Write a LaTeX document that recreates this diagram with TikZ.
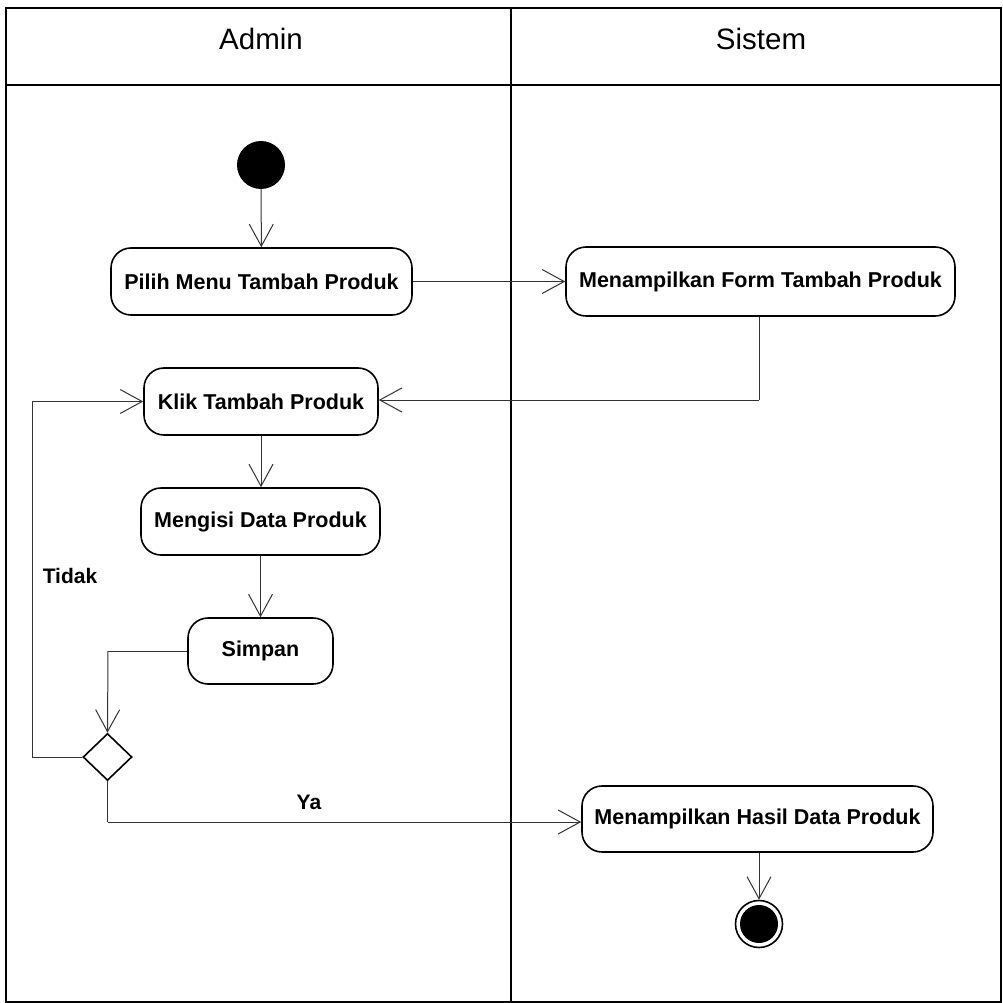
\documentclass[tikz,border=0pt]{standalone}
\usepackage{fontspec}
\setmainfont{Liberation Sans}
\usetikzlibrary{arrows.meta,shapes.geometric}
\begin{document}
\begin{tikzpicture}[x=1pt,y=-1pt,
  action/.style={draw=black,line width=1.6pt,rounded corners=20pt,fill=white,
    font=\fontsize{21.5}{25}\selectfont\bfseries,inner sep=0pt},
  flow/.style={draw=black!80,line width=1pt,
    -{Straight Barb[length=22pt,width=24pt,line width=1pt]}},
  plain/.style={draw=black!80,line width=1pt},
  lane/.style={draw=black,line width=1.8pt},
  lbl/.style={font=\fontsize{21}{25}\selectfont\bfseries}]
\useasboundingbox (0,0) rectangle (1002,1003);
% swimlanes
\draw[lane] (6,8) rectangle (1001,1002);
\draw[lane] (6,85) -- (1001,85);
\draw[lane] (511,8) -- (511,1002);
\node[font=\fontsize{29.5}{34}\selectfont] (hAdmin) at (261,39) {Admin};
\node[font=\fontsize{29.5}{34}\selectfont] (hSistem) at (761,39) {Sistem};
% initial and final states
\node[circle,fill=black,minimum size=48pt,inner sep=0pt] (start) at (261,165) {};
\node[circle,draw=black,line width=1.6pt,minimum size=47pt,inner sep=0pt] (stop) at (759,924) {};
\fill[black] (stop.center) circle (19pt);
% actions
\node[action,minimum width=301pt,minimum height=67pt] (pilih) at (261.5,281.5) {Pilih Menu Tambah Produk};
\node[action,minimum width=389pt,minimum height=69pt] (form) at (760.5,281.5) {Menampilkan Form Tambah Produk};
\node[action,minimum width=234pt,minimum height=67pt] (klik) at (261,401.5) {Klik Tambah Produk};
\node[action,minimum width=239pt,minimum height=67pt] (isi) at (260.5,521.5) {Mengisi Data Produk};
\node[action,minimum width=145pt,minimum height=66pt] (simpan) at (260.5,651) {Simpan};
\node[action,minimum width=351pt,minimum height=66pt] (hasil) at (757.5,819) {Menampilkan Hasil Data Produk};
% decision
\node[diamond,draw=black,line width=1.6pt,fill=white,minimum width=49pt,minimum height=47pt,inner sep=0pt] (dec) at (107.5,757) {};
% flows
\draw[flow] (start) -- (pilih);
\draw[flow] (pilih.east) -- (form.west);
\coordinate (formturn) at (759,400);
\draw[plain] (form.south -| formturn) -- (formturn);
\draw[flow] (formturn) -- (klik.east |- formturn);
\draw[flow] (klik.south) -- (klik.south |- isi.north);
\draw[flow] (isi.south) -- (isi.south |- simpan.north);
\coordinate (simpturn) at (108,651);
\draw[plain] (simpan.west) -- (simpturn);
\draw[flow] (simpturn) -- (dec.north);
\coordinate (loopa) at (32,757);
\coordinate (loopb) at (32,401.5);
\draw[plain] (dec.west) -- (loopa) -- (loopb);
\draw[flow] (loopb) -- (klik.west);
\coordinate (yaturn) at (107.5,822);
\draw[plain] (dec.south) -- (yaturn);
\draw[flow] (yaturn) -- (hasil.west |- yaturn);
\draw[flow] (hasil.south -| stop) -- (stop.north);
% guards
\node[lbl] (tidak) at (70,576) {Tidak};
\node[lbl] (ya) at (309,802) {Ya};
\end{tikzpicture}
\end{document}
